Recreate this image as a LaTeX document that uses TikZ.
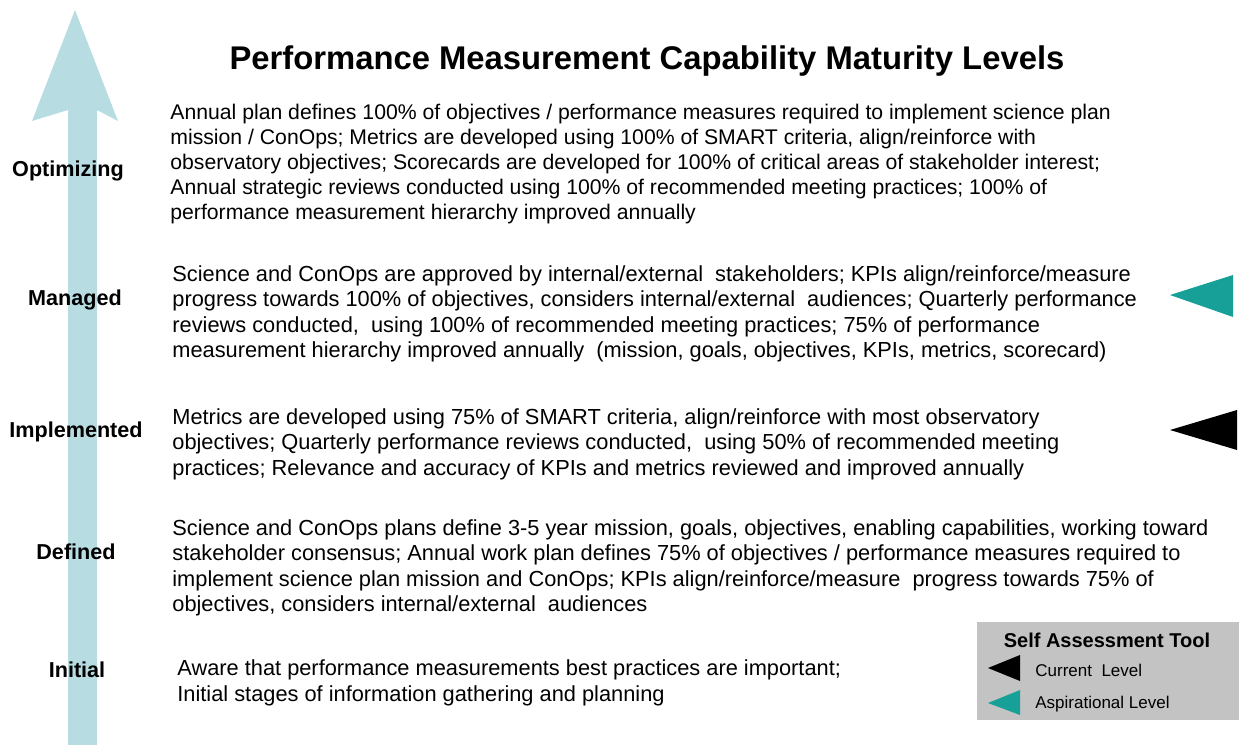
\documentclass[tikz,border=0pt]{standalone}
\usepackage{fontspec}
\setmainfont{Liberation Sans}
\definecolor{arrowblue}{RGB}{183,221,227}
\definecolor{aspteal}{RGB}{22,160,152}
\definecolor{legendgrey}{RGB}{195,195,195}
\begin{document}
\begin{tikzpicture}[x=0.5pt,y=-0.5pt,
    level/.style={font=\fontsize{10.8}{13}\selectfont\bfseries,inner sep=0pt},
    desc/.style={anchor=west,align=left,inner sep=0pt,
      font=\fontsize{10.9}{12.7}\selectfont},
    legtext/.style={anchor=west,inner sep=0pt,font=\fontsize{8.5}{10}\selectfont}]
  \useasboundingbox (0,0) rectangle (1239,745);
  % the big upward arrow
  \fill[arrowblue] (75,10) -- (118,121) -- (97,110) -- (97,745)
    -- (68,745) -- (68,110) -- (32,121) -- cycle;
  \node[font=\fontsize{16.4}{19}\selectfont\bfseries] (title) at (647,61)
    {Performance Measurement Capability Maturity Levels};
  % levels, bottom to top
  \node[level] (optimizing) at (68,171) {Optimizing};
  \node[level] (managed) at (75,300) {Managed};
  \node[level] (implemented) at (76,432) {Implemented};
  \node[level] (defined) at (76,552) {Defined};
  \node[level] (initial) at (77,670) {Initial};
  \node[desc,font=\fontsize{10.6}{12.6}\selectfont] (optimizingtxt) at (170,164)
    {Annual plan defines 100\% of objectives / performance measures required to implement science plan\\
     mission / ConOps; Metrics are developed using 100\% of SMART criteria, align/reinforce with\\
     observatory objectives; Scorecards are developed for 100\% of critical areas of stakeholder interest;\\
     Annual strategic reviews conducted using 100\% of recommended meeting practices; 100\% of\\
     performance measurement hierarchy improved annually};
  \node[desc] (managedtxt) at (172,314)
    {Science and ConOps are approved by internal/external \ stakeholders; KPIs align/reinforce/measure\\
     progress towards 100\% of objectives, considers internal/external \ audiences; Quarterly performance\\
     reviews conducted, \ using 100\% of recommended meeting practices; 75\% of performance\\
     measurement hierarchy improved annually \ (mission, goals, objectives, KPIs, metrics, scorecard)};
  \node[desc] (implementedtxt) at (172,444)
    {Metrics are developed using 75\% of SMART criteria, align/reinforce with most observatory\\
     objectives; Quarterly performance reviews conducted, \ using 50\% of recommended meeting\\
     practices; Relevance and accuracy of KPIs and metrics reviewed and improved annually};
  \node[desc] (definedtxt) at (172,568)
    {Science and ConOps plans define 3-5 year mission, goals, objectives, enabling capabilities, working toward\\
     stakeholder consensus; Annual work plan defines 75\% of objectives / performance measures required to\\
     implement science plan mission and ConOps; KPIs align/reinforce/measure \ progress towards 75\% of\\
     objectives, considers internal/external \ audiences};
  \node[desc] (initialtxt) at (177,683)
    {Aware that performance measurements best practices are important;\\
     Initial stages of information gathering and planning};
  % markers on the right
  \fill[aspteal] (1170,295) -- (1233,275) -- (1233,317) -- cycle;
  \fill[black] (1170,430) -- (1237,410) -- (1237,450) -- cycle;
  % legend box
  \fill[legendgrey] (977,622) rectangle (1239,720);
  \node[font=\fontsize{10}{12}\selectfont\bfseries,inner sep=0pt] (legtitle) at (1107,640)
    {Self Assessment Tool};
  \fill[black] (988,668) -- (1020,655) -- (1020,681) -- cycle;
  \fill[aspteal] (988,703) -- (1020,690) -- (1020,715) -- cycle;
  \node[legtext] (current) at (1035,670) {Current \ Level};
  \node[legtext] (aspirational) at (1035,704) {Aspirational Level};
\end{tikzpicture}
\end{document}
